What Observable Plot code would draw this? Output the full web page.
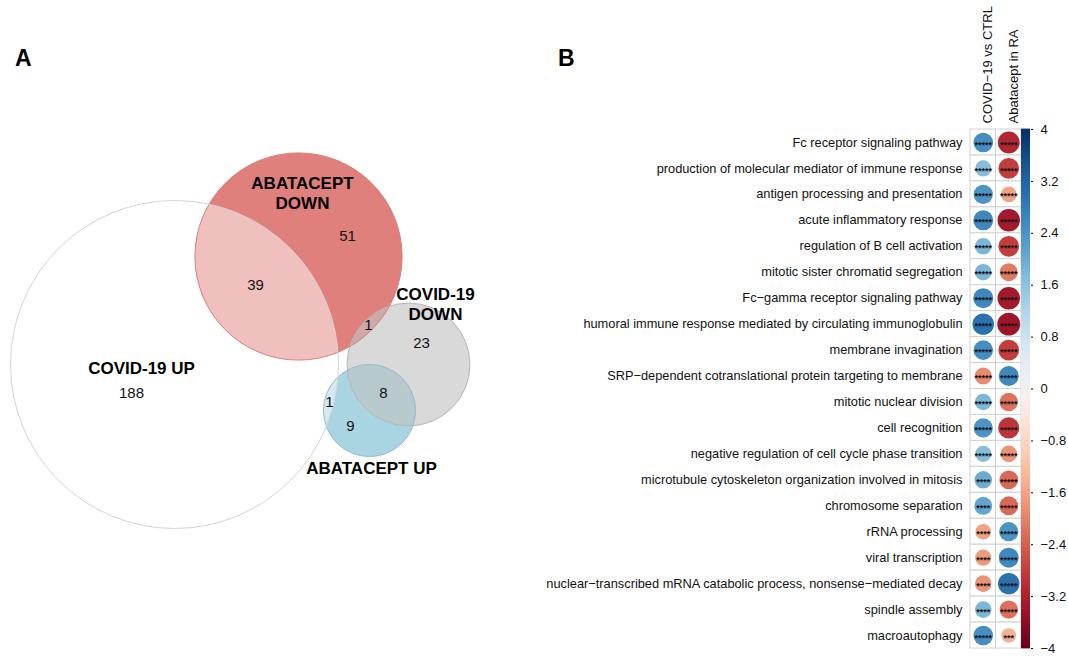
<!DOCTYPE html>
<html>
<head>
<meta charset="utf-8">
<script src="https://cdn.jsdelivr.net/npm/d3@7"></script>
<script src="https://cdn.jsdelivr.net/npm/@observablehq/plot@0.6"></script>
<style>
  body { margin: 0; background: #fff; font-family: "Liberation Sans", Arial, sans-serif; }
  #fig { position: relative; width: 1068px; height: 656px; overflow: hidden; background: #fff; }
  #fig > svg, #fig > .tag { position: absolute; top: 0; }
  .tag { font: bold 23px/23px "Liberation Sans", Arial, sans-serif; color: #000; }
</style>
</head>
<body>
<div id="fig"></div>
<script>
// ---------- Panel A: overlap of enriched GO terms ----------
const setNames = ["COVID-19 UP", "ABATACEPT DOWN", "COVID-19 DOWN", "ABATACEPT UP"];
const setLabels = ["COVID-19 UP", "ABATACEPT\nDOWN", "COVID-19\nDOWN", "ABATACEPT UP"];

// exclusive region counts and the sets each region belongs to
const regionCounts = [188, 39, 51, 1, 23, 8, 1, 9];
const regionMembers = [
  ["COVID-19 UP"],
  ["COVID-19 UP", "ABATACEPT DOWN"],
  ["ABATACEPT DOWN"],
  ["ABATACEPT DOWN", "COVID-19 DOWN"],
  ["COVID-19 DOWN"],
  ["COVID-19 DOWN", "ABATACEPT UP"],
  ["COVID-19 UP", "ABATACEPT UP"],
  ["ABATACEPT UP"]
];

// Euler layout (diagram units): circle centres, label and count anchors
const setCenterX = [174, 298, 408, 369];
const setCenterY = [364, 256, 364, 410];
const setLabelX = [141, 302, 435, 371];
const setLabelY = [367, 192, 303, 467];
const regionX = [131, 255, 347, 368, 421, 383, 329, 350];
const regionY = [393, 285, 236, 325, 343, 393, 402, 426];

// set size = sum of all regions that include the set
const setSizes = setNames.map(name =>
  d3.sum(regionCounts.filter((c, i) => regionMembers[i].includes(name))));

const sets = setNames.map((name, i) => ({
  name, label: setLabels[i], size: setSizes[i],
  cx: setCenterX[i], cy: setCenterY[i], lx: setLabelX[i], ly: setLabelY[i]
}));
const regions = regionCounts.map((count, i) => ({count, x: regionX[i], y: regionY[i]}));

const setStyle = {
  "ABATACEPT DOWN": {fill: "#e0807d", fillOpacity: 1, stroke: "#dc7c79"},
  "ABATACEPT UP":   {fill: "#a9d4e1", fillOpacity: 1, stroke: "#93bccb"},
  "COVID-19 DOWN":  {fill: "#c2c2c2", fillOpacity: 0.62, stroke: "#b6b6b6"},
  "COVID-19 UP":    {fill: "#ffffff", fillOpacity: 0.5, stroke: "#d4d4d4"}
};
const drawOrder = ["ABATACEPT DOWN", "ABATACEPT UP", "COVID-19 DOWN", "COVID-19 UP"];

const fontFamily = "Liberation Sans, Arial, Helvetica, sans-serif";

const venn = Plot.plot({
  width: 540, height: 656, margin: 0,
  x: {domain: [0, 540], range: [0, 540], axis: null},
  y: {domain: [0, 656], range: [0, 656], axis: null},
  r: {type: "sqrt", domain: [0, d3.max(setSizes)], range: [0, 164]},
  style: {fontFamily, background: "transparent"},
  marks: [
    ...drawOrder.map(name => Plot.dot(sets.filter(s => s.name === name), {
      x: "cx", y: "cy", r: "size",
      fill: setStyle[name].fill, fillOpacity: setStyle[name].fillOpacity, stroke: "none"
    })),
    ...drawOrder.map(name => Plot.dot(sets.filter(s => s.name === name), {
      x: "cx", y: "cy", r: "size",
      fill: "none", stroke: setStyle[name].stroke, strokeWidth: 1
    })),
    Plot.text(regions, {x: "x", y: "y", text: "count", fontSize: 15, fill: "#111"}),
    Plot.text(sets, {x: "lx", y: "ly", text: "label", fontSize: 17, fontWeight: "bold",
      lineHeight: 1.15, fill: "#000"})
  ]
});

// ---------- Panel B: GO term scores per contrast ----------
const contrasts = ["COVID\u221219 vs CTRL", "Abatacept in RA"];
const terms = [
  "Fc receptor signaling pathway",
  "production of molecular mediator of immune response",
  "antigen processing and presentation",
  "acute inflammatory response",
  "regulation of B cell activation",
  "mitotic sister chromatid segregation",
  "Fc\u2212gamma receptor signaling pathway",
  "humoral immune response mediated by circulating immunoglobulin",
  "membrane invagination",
  "SRP\u2212dependent cotranslational protein targeting to membrane",
  "mitotic nuclear division",
  "cell recognition",
  "negative regulation of cell cycle phase transition",
  "microtubule cytoskeleton organization involved in mitosis",
  "chromosome separation",
  "rRNA processing",
  "viral transcription",
  "nuclear\u2212transcribed mRNA catabolic process, nonsense\u2212mediated decay",
  "spindle assembly",
  "macroautophagy"
];
const covidScores = [2.5, 1.7, 2.4, 2.6, 1.8, 1.8, 2.6, 3.0, 2.5, -1.9, 1.8, 2.4, 1.7, 2.0, 2.1, -1.6, -1.7, -1.8, 1.8, 2.5];
const abataceptScores = [-3.1, -2.8, -1.6, -3.3, -2.8, -2.1, -3.3, -3.4, -2.8, 2.6, -2.2, -2.9, -1.8, -2.3, -2.3, 2.4, 2.6, 3.0, -2.2, -1.4];
const covidStars = [5, 5, 5, 5, 5, 5, 5, 5, 5, 5, 5, 5, 5, 4, 4, 4, 4, 4, 4, 5];
const abataceptStars = [5, 5, 5, 5, 5, 5, 5, 5, 5, 5, 5, 5, 5, 5, 5, 5, 5, 5, 5, 3];
const colorbarTicks = [4, 3.2, 2.4, 1.6, 0.8, 0, -0.8, -1.6, -2.4, -3.2, -4];

const cells = terms.flatMap((term, i) => [
  {term, contrast: contrasts[0], score: covidScores[i], stars: covidStars[i]},
  {term, contrast: contrasts[1], score: abataceptScores[i], stars: abataceptStars[i]}
]);

const colorScale = {type: "diverging", scheme: "RdBu", domain: [-4, 4], pivot: 0};

const corr = Plot.plot({
  width: 528, height: 656,
  marginLeft: 430, marginRight: 47, marginTop: 129, marginBottom: 8,
  x: {domain: contrasts, padding: 0, round: false, axis: null},
  y: {domain: terms, padding: 0, round: false},
  r: {type: "sqrt", domain: [0, 4], range: [0, 12.4]},
  color: colorScale,
  style: {fontFamily, background: "transparent"},
  marks: [
    Plot.cell(cells, {x: "contrast", y: "term", fill: "white", stroke: "#d2d2d2", strokeWidth: 1}),
    Plot.dot(cells, {x: "contrast", y: "term", r: d => Math.abs(d.score), fill: "score", stroke: "none"}),
    Plot.text(cells, {x: "contrast", y: "term", text: d => "*".repeat(d.stars),
      fontSize: 9, fontWeight: "bold", dy: 2.2, fill: "#111"}),
    Plot.axisY({tickSize: 0, tickPadding: 8, fontSize: 12.8, label: null, fill: "#111"}),
    Plot.text(contrasts, {x: d => d, frameAnchor: "top", rotate: -90, textAnchor: "start",
      dy: -6, fontSize: 13, fill: "#111"})
  ]
});

// vertical colour key
const step = 0.05;
const ramp = d3.range(-4, 4, step);
const colorbar = Plot.plot({
  width: 58, height: 656,
  marginLeft: 11, marginRight: 38, marginTop: 129, marginBottom: 8,
  x: {domain: [0, 1], axis: null},
  y: {domain: [-4, 4]},
  color: colorScale,
  style: {fontFamily, background: "transparent"},
  marks: [
    Plot.rect(ramp, {x1: 0, x2: 1, y1: d => d, y2: d => d + step, fill: d => d + step / 2,
      insetTop: -0.4, insetBottom: -0.4}),
    Plot.axisY({anchor: "right", ticks: colorbarTicks, tickSize: 2, tickPadding: 8, fontSize: 13,
      label: null, tickFormat: d => String(d).replace("-", "\u2212"), fill: "#111"})
  ]
});

const fig = document.getElementById("fig");
venn.style.left = "0px";
corr.style.left = "540px";
colorbar.style.left = "1010px";
fig.append(venn, corr, colorbar);

for (const [text, left] of [["A", 15], ["B", 558]]) {
  const tag = document.createElement("div");
  tag.className = "tag";
  tag.textContent = text;
  tag.style.left = left + "px";
  tag.style.top = "47px";
  fig.append(tag);
}
</script>
</body>
</html>
